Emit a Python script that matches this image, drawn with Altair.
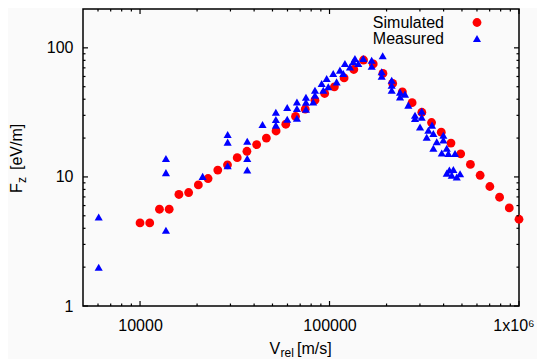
import altair as alt
import pandas as pd

# ---------------- data ----------------
sim_v = [10000, 11250, 12660, 14250, 16040, 18050, 20310, 22860, 25720, 28940,
         32570, 36650, 41250, 46420, 52230, 58780, 66150, 74440, 83770, 94270,
         106100, 119400, 134300, 151200, 170100, 191400, 215400, 242400, 272800, 307000,
         345500, 388800, 437500, 492400, 554100, 623600, 701700, 789700, 888600, 1000000]
sim_f = [4.40, 4.40, 5.62, 5.62, 7.31, 7.57, 8.67, 9.72, 11.3, 12.4,
         14.1, 15.8, 17.8, 20.0, 22.7, 25.6, 29.4, 33.5, 39.3, 44.3,
         49.9, 58.5, 68.0, 80.5, 75.0, 63.3, 53.0, 45.6, 37.6, 31.7,
         26.4, 22.2, 18.3, 15.1, 12.5, 10.3, 8.43, 6.96, 5.75, 4.70]

meas_v = [6050, 6050, 13700, 13700, 13700, 21400, 29000, 29000, 29000, 36800,
          36800, 36800, 44300, 52100, 52100, 52100, 59800, 59800, 67300, 67300,
          75100, 75100, 75100, 83800, 83800, 82000, 90900, 92700, 96600, 98500,
          104600, 109000, 113500, 118200, 120600, 128200, 133400, 136200, 141800, 150700,
          166900, 166900, 190800, 188500, 188500, 212900, 212900, 212900, 235500, 235500,
          250200, 260500, 282600, 282600, 306600, 306600, 300400, 332300, 325800, 353200,
          368100, 353200, 398800, 398800, 391100, 415700, 423900, 459700, 429000, 441800,
          469300, 488700, 415700, 450400, 347500, 67300]
meas_f = [4.9, 2.0, 13.9, 10.8, 3.86, 10.1, 21.3, 18.6, 12.2, 18.9,
          13.9, 11.3, 25.5, 31.7, 27.9, 25.2, 34.5, 28.0, 38.1, 28.5,
          41.5, 37.9, 33.5, 47.0, 43.0, 38.1, 53.0, 47.0, 57.9, 49.9,
          63.3, 54.5, 67.2, 63.3, 75.7, 71.2, 77.9, 82.8, 75.7, 82.8,
          80.3, 72.1, 86.7, 65.2, 60.3, 56.2, 51.4, 47.0, 45.4, 41.7,
          43.8, 36.0, 30.1, 28.4, 32.3, 29.0, 24.4, 23.0, 20.3, 21.7,
          18.7, 16.7, 21.0, 19.3, 15.3, 16.7, 15.2, 15.2, 11.3, 10.3,
          10.0, 10.6, 10.7, 11.4, 25.2, 33.9]

x_major = [10000, 100000, 1000000]
x_minor = [6000, 7000, 8000, 9000,
           20000, 30000, 40000, 50000, 60000, 70000, 80000, 90000,
           200000, 300000, 400000, 500000, 600000, 700000, 800000, 900000]
y_major = [1, 10, 100]
y_minor = [2, 3, 4, 5, 6, 7, 8, 9, 20, 30, 40, 50, 60, 70, 80, 90]

legend_labels = ["Simulated", "Measured"]
x_title = ["V", "rel", "[m/s]"]
y_title = ["F", "z", "[eV/m]"]

# ---------------- layout ----------------
W, H = 436, 297
FONT = "Liberation Sans"
MAJ, MIN = 5, 2.5

xs = alt.Scale(type="log", domain=[5000, 1000000], nice=False)
ys = alt.Scale(type="log", domain=[1, 200], nice=False)

x_axis = alt.Axis(values=x_major,
                  labelExpr="datum.value >= 1000000 ? '1x10\u2076' : format(datum.value, 'd')",
                  ticks=False, domain=False, grid=False, title=None,
                  labelPadding=11, labelFontSize=16,
                  labelOffset={"condition": {"test": "datum.value >= 1000000", "value": -5.5}, "value": 0},
                  labelFont=FONT, labelColor="black",
                  labelFlush=False, labelOverlap=False)
y_axis = alt.Axis(values=y_major, labelExpr="format(datum.value, 'd')",
                  ticks=False, domain=False, grid=False, title=None,
                  labelPadding=10, labelFontSize=16, labelFont=FONT, labelColor="black",
                  labelFlush=False, labelOverlap=False)

sim_df = pd.DataFrame({"v": sim_v, "f": sim_f})
meas_df = pd.DataFrame({"v": meas_v, "f": meas_f})

sim = alt.Chart(sim_df).mark_point(shape="circle", filled=True, size=78,
                                    color="#ff0000", opacity=1).encode(
    x=alt.X("v:Q", scale=xs, axis=x_axis),
    y=alt.Y("f:Q", scale=ys, axis=y_axis))
meas = alt.Chart(meas_df).mark_point(shape="triangle-up", filled=True, size=66,
                                      color="#0000ff", opacity=1).encode(
    x=alt.X("v:Q", scale=xs, axis=x_axis),
    y=alt.Y("f:Q", scale=ys, axis=y_axis))

def xticks(vals, length):
    df = pd.DataFrame({"t": vals})
    base = alt.Chart(df).mark_rule(color="black", strokeWidth=1.2)
    bot = base.encode(x=alt.X("t:Q", scale=xs, axis=x_axis),
                      y=alt.value(H), y2=alt.value(H - length))
    top = base.encode(x=alt.X("t:Q", scale=xs, axis=x_axis),
                      y=alt.value(0), y2=alt.value(length))
    return [bot, top]

def yticks(vals, length):
    df = pd.DataFrame({"t": vals})
    base = alt.Chart(df).mark_rule(color="black", strokeWidth=1.2)
    left = base.encode(y=alt.Y("t:Q", scale=ys, axis=y_axis),
                       x=alt.value(0), x2=alt.value(length))
    right = base.encode(y=alt.Y("t:Q", scale=ys, axis=y_axis),
                        x=alt.value(W), x2=alt.value(W - length))
    return [left, right]

ticks = xticks(x_major, MAJ) + xticks(x_minor, MIN) + yticks(y_major, MAJ) + yticks(y_minor, MIN)

def txt(s, x, y, size=16, align="left", baseline="alphabetic", angle=0):
    return alt.Chart(pd.DataFrame({"s": [s]})).mark_text(
        align=align, baseline=baseline, fontSize=size, font=FONT,
        color="black", angle=angle).encode(
        x=alt.value(x), y=alt.value(y), text="s:N")

# legend
leg = [
    txt(legend_labels[0], 361, 14, align="right", baseline="middle"),
    txt(legend_labels[1], 361, 29.5, align="right", baseline="middle"),
    alt.Chart(pd.DataFrame({"s": [legend_labels[0]]})).mark_point(
        shape="circle", filled=True, size=78, color="#ff0000", opacity=1).encode(
        x=alt.value(394), y=alt.value(13.5)),
    alt.Chart(pd.DataFrame({"s": [legend_labels[1]]})).mark_point(
        shape="triangle-up", filled=True, size=66, color="#0000ff", opacity=1).encode(
        x=alt.value(394), y=alt.value(29.5)),
]

# axis titles with subscripts
titles = [
    txt(x_title[0], 186.5, 344.5),
    txt(x_title[1], 197.5, 347.5, size=12),
    txt(x_title[2], 214, 344.5),
    txt(y_title[0], -61, 184, angle=270),
    txt(y_title[1], -57.5, 174, size=12, angle=270),
    txt(y_title[2], -61, 161, angle=270),
]

chart = alt.layer(sim, meas, *ticks, *leg, *titles).properties(
    width=W, height=H,
    autosize=alt.AutoSizeParams(type="none"),
    padding={"left": 75, "top": 1, "right": 18, "bottom": 57},
    background="#fafafa",
).configure_view(stroke="black", strokeWidth=1.5)

chart.save("out.html", embed_options={"renderer": "svg", "actions": False})
